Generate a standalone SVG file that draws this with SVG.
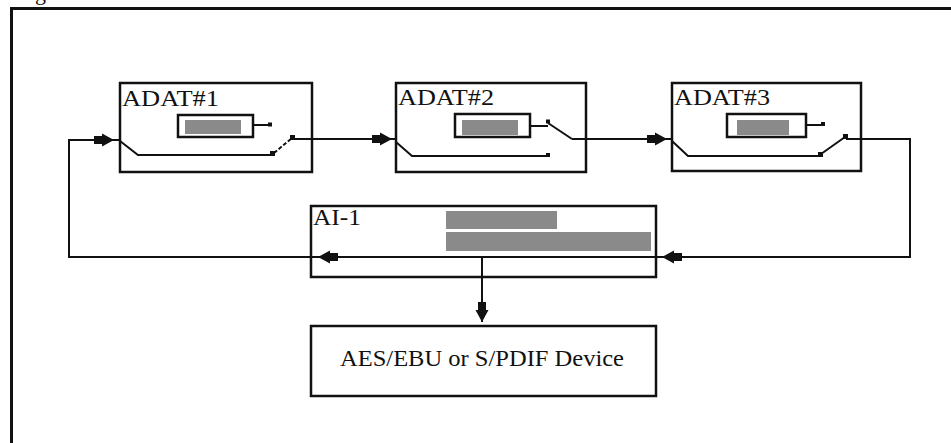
<svg xmlns="http://www.w3.org/2000/svg" width="951" height="443" viewBox="0 0 951 443">
<defs>
<style>
.box{fill:#fff;stroke:#111;stroke-width:2.5}
.disp{fill:#fff;stroke:#111;stroke-width:2.5}
.bar{fill:#8a8a8a}
.ln{fill:none;stroke:#111;stroke-width:2}
.lbl{font-family:"Liberation Serif","Times New Roman",serif;fill:#111}
.dot{fill:#111}
</style>
<marker id="arr" markerUnits="userSpaceOnUse" markerWidth="24" markerHeight="16" viewBox="-20 -8 24 16" refX="0" refY="0" orient="auto">
<path d="M-20,-4 L-12,-4 L-12,-6.5 L0,0 L-12,6.5 L-12,4 L-20,4 Z" fill="#111"/>
</marker>
</defs>
<rect x="0" y="0" width="951" height="443" fill="#fff"/>
<text class="lbl" x="35" y="0" font-size="22">g</text>
<path d="M11.5,443 V8.5 H951" fill="none" stroke="#111" stroke-width="3"/>

<g id="connectors">
<path class="ln" d="M846,139 H910 V257 H662" marker-end="url(#arr)"/>
<path class="ln" d="M662,257 H318" marker-end="url(#arr)"/>
<path class="ln" d="M318,257 H69 V140 H114" marker-end="url(#arr)"/>
<path class="ln" d="M114,140 H120"/>
<path class="ln" d="M292,139 H392" marker-end="url(#arr)"/>
<path class="ln" d="M392,139 H397"/>
<path class="ln" d="M572,139 H667" marker-end="url(#arr)"/>
<path class="ln" d="M667,139 H673"/>
<path class="ln" d="M482,257 V322" marker-end="url(#arr)"/>
</g>

<g id="adat1">
<rect class="box" x="120" y="83" width="192" height="89" fill-opacity="0"/>
<text class="lbl" x="122" y="106" font-size="24" textLength="97" lengthAdjust="spacingAndGlyphs">ADAT#1</text>
<rect class="disp" x="178" y="115" width="75" height="22"/>
<rect class="bar" x="185" y="120" width="56" height="14"/>
<path class="ln" d="M253,125 H270"/>
<rect class="dot" x="268" y="122.5" width="4" height="4"/>
<path class="ln" d="M120,141 L138,155 H272"/>
<rect class="dot" x="270" y="151" width="5" height="5"/>
<path class="ln" d="M274,153 L292,138" stroke-dasharray="4 2"/>
<rect class="dot" x="290" y="135" width="5" height="5"/>
</g>

<g id="adat2">
<rect class="box" x="396" y="83" width="190" height="89" fill-opacity="0"/>
<text class="lbl" x="398" y="105" font-size="24" textLength="96" lengthAdjust="spacingAndGlyphs">ADAT#2</text>
<rect class="disp" x="455" y="114" width="75" height="23"/>
<rect class="bar" x="462" y="120" width="56" height="15"/>
<path class="ln" d="M530,126 H548"/>
<rect class="dot" x="546" y="119.5" width="4" height="4"/>
<path class="ln" d="M548,123 L572,139"/>
<path class="ln" d="M396,142 L412,156 H548"/>
<rect class="dot" x="546" y="153" width="4" height="4"/>
</g>

<g id="adat3">
<rect class="box" x="672" y="83" width="189" height="88" fill-opacity="0"/>
<text class="lbl" x="674" y="105" font-size="24" textLength="96" lengthAdjust="spacingAndGlyphs">ADAT#3</text>
<rect class="disp" x="727" y="114" width="79" height="23"/>
<rect class="bar" x="737" y="120" width="52" height="15"/>
<path class="ln" d="M806,125 H823"/>
<rect class="dot" x="821" y="122" width="4" height="4"/>
<path class="ln" d="M672,141 L688,156 H820"/>
<rect class="dot" x="818" y="152" width="5" height="5"/>
<path class="ln" d="M821,154 L845,137"/>
<rect class="dot" x="843" y="134" width="5" height="5"/>
</g>

<g id="ai1">
<rect class="box" x="311" y="206" width="345" height="71" fill-opacity="0"/>
<text class="lbl" x="313" y="225" font-size="24" textLength="48" lengthAdjust="spacingAndGlyphs">AI-1</text>
<rect class="bar" x="446" y="211" width="111" height="18"/>
<rect class="bar" x="446" y="232" width="205" height="19"/>
</g>

<g id="device">
<rect class="box" x="311" y="326" width="345" height="70"/>
<text class="lbl" x="340" y="366" font-size="24" textLength="284" lengthAdjust="spacingAndGlyphs">AES/EBU or S/PDIF Device</text>
</g>
</svg>
